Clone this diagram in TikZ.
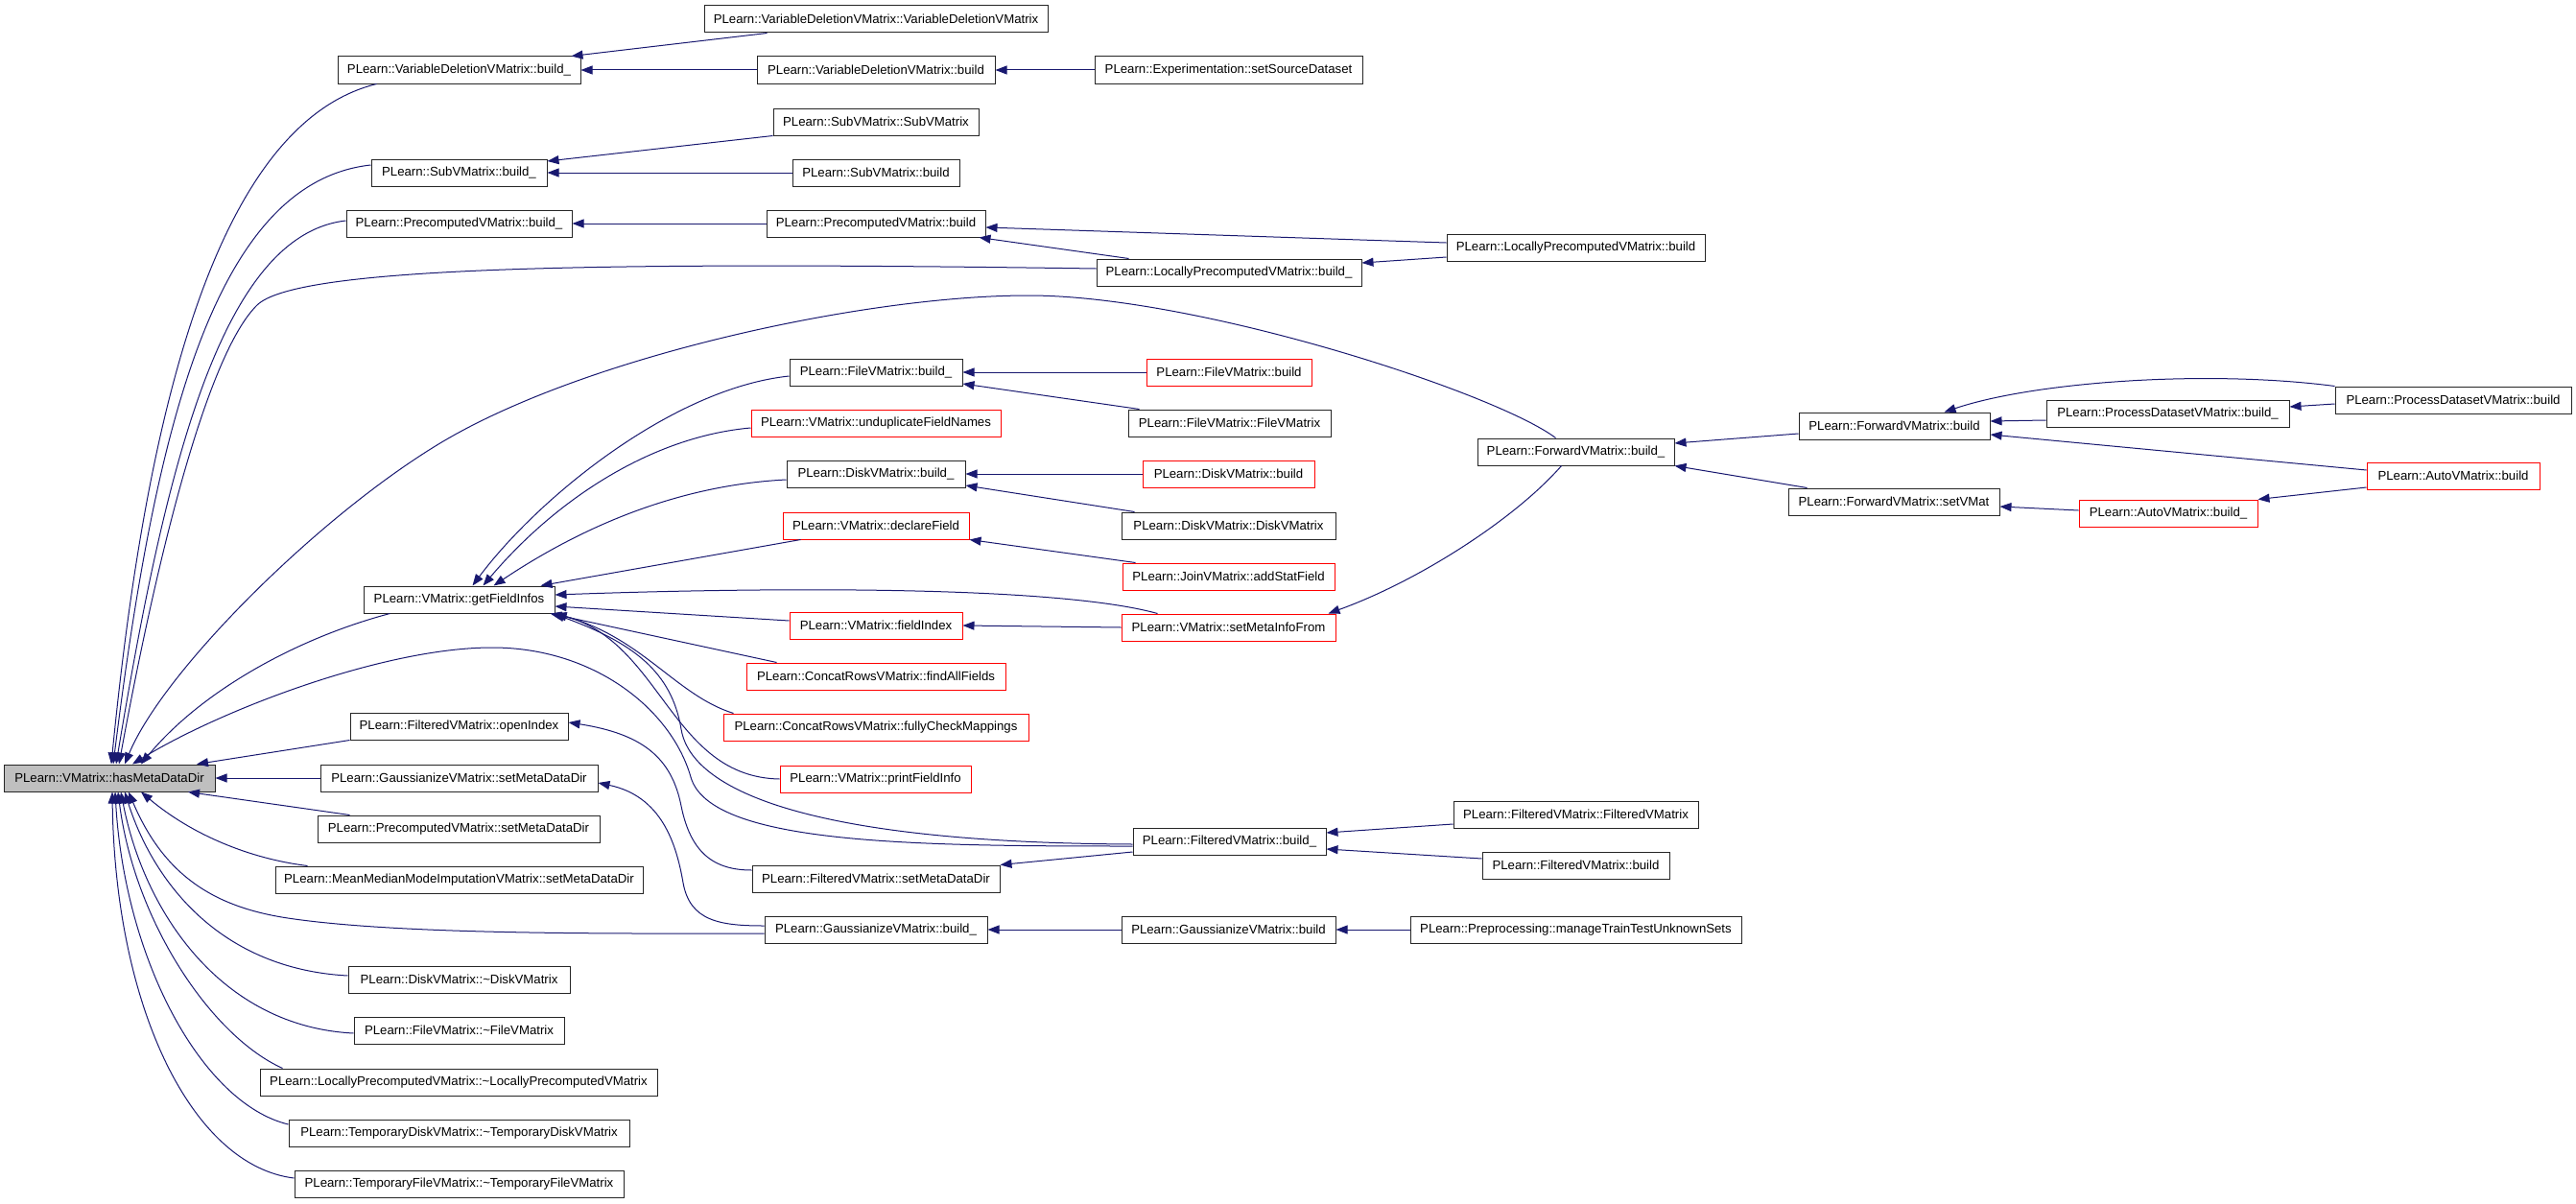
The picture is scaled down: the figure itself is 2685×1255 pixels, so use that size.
\documentclass[tikz,border=0pt]{standalone}
\usepackage{fontspec}
\setmainfont{Liberation Sans}
\usetikzlibrary{arrows.meta}
\definecolor{edgec}{RGB}{25,25,112}
\definecolor{hlgray}{RGB}{191,191,191}
\begin{document}
\begin{tikzpicture}[x=1pt,y=-1pt,
  box/.style={draw=black!85, line width=1pt, fill=white, minimum height=28pt, inner xsep=2pt, inner ysep=0pt, font=\fontsize{13.2}{15}\selectfont, anchor=center},
  rbox/.style={box, draw=red},
  hbox/.style={box, fill=hlgray},
  e/.style={draw=edgec, line width=1pt, {Triangle[length=12pt,width=9pt]}-}]
\useasboundingbox (0,0) rectangle (2685,1255);
% ---- root
\node[hbox, minimum width=220pt] (hmd) at (114,811) {PLearn::VMatrix::hasMetaDataDir};
% ---- column 2
\node[box, minimum width=253pt] (vdbu) at (478.5,73) {PLearn::VariableDeletionVMatrix::build\_};
\node[box, minimum width=183pt] (subu) at (478.5,180) {PLearn::SubVMatrix::build\_};
\node[box, minimum width=235pt] (pcbu) at (478.5,233) {PLearn::PrecomputedVMatrix::build\_};
\node[box, minimum width=199pt] (gfi) at (478.5,625) {PLearn::VMatrix::getFieldInfos};
\node[box, minimum width=227pt] (oi) at (478.5,757) {PLearn::FilteredVMatrix::openIndex};
\node[box, minimum width=289pt] (gsmd) at (478.5,811) {PLearn::GaussianizeVMatrix::setMetaDataDir};
\node[box, minimum width=294pt] (psmd) at (478,864) {PLearn::PrecomputedVMatrix::setMetaDataDir};
\node[box, minimum width=383pt] (mmsmd) at (478.5,917) {PLearn::MeanMedianModeImputationVMatrix::setMetaDataDir};
\node[box, minimum width=231pt] (dd) at (478.5,1021) {PLearn::DiskVMatrix::\textasciitilde DiskVMatrix};
\node[box, minimum width=219pt] (fd) at (478.5,1074) {PLearn::FileVMatrix::\textasciitilde FileVMatrix};
\node[box, minimum width=414pt] (lpd) at (478,1128) {PLearn::LocallyPrecomputedVMatrix::\textasciitilde LocallyPrecomputedVMatrix};
\node[box, minimum width=355pt] (tdd) at (478.5,1181) {PLearn::TemporaryDiskVMatrix::\textasciitilde TemporaryDiskVMatrix};
\node[box, minimum width=343pt] (tfd) at (478.5,1234) {PLearn::TemporaryFileVMatrix::\textasciitilde TemporaryFileVMatrix};
% ---- column 3
\node[box, minimum width=358pt] (vdvd) at (913,20) {PLearn::VariableDeletionVMatrix::VariableDeletionVMatrix};
\node[box, minimum width=248pt] (vdb) at (913,73) {PLearn::VariableDeletionVMatrix::build};
\node[box, minimum width=214pt] (subsub) at (913,127) {PLearn::SubVMatrix::SubVMatrix};
\node[box, minimum width=174pt] (subb) at (913,180) {PLearn::SubVMatrix::build};
\node[box, minimum width=228pt] (pcb) at (913,233) {PLearn::PrecomputedVMatrix::build};
\node[box, minimum width=180pt] (fvbu) at (913,388) {PLearn::FileVMatrix::build\_};
\node[rbox, minimum width=260pt] (undup) at (913,441) {PLearn::VMatrix::unduplicateFieldNames};
\node[box, minimum width=186pt] (dvbu) at (913,494) {PLearn::DiskVMatrix::build\_};
\node[rbox, minimum width=194pt] (decl) at (913,548) {PLearn::VMatrix::declareField};
\node[rbox, minimum width=180pt] (fidx) at (913,652) {PLearn::VMatrix::fieldIndex};
\node[rbox, minimum width=270pt] (cfaf) at (913,705) {PLearn::ConcatRowsVMatrix::findAllFields};
\node[rbox, minimum width=318pt] (cfcm) at (913,758) {PLearn::ConcatRowsVMatrix::fullyCheckMappings};
\node[rbox, minimum width=199pt] (pfi) at (912.5,812) {PLearn::VMatrix::printFieldInfo};
\node[box, minimum width=258pt] (fsmd) at (913,916) {PLearn::FilteredVMatrix::setMetaDataDir};
\node[box, minimum width=232pt] (gbu) at (913,969) {PLearn::GaussianizeVMatrix::build\_};
% ---- column 4
\node[box, minimum width=279pt] (exp) at (1280.5,73) {PLearn::Experimentation::setSourceDataset};
\node[box, minimum width=276pt] (lpbu) at (1281,284) {PLearn::LocallyPrecomputedVMatrix::build\_};
\node[rbox, minimum width=172pt] (fvb) at (1281,388) {PLearn::FileVMatrix::build};
\node[box, minimum width=211pt] (fvfv) at (1281.5,441) {PLearn::FileVMatrix::FileVMatrix};
\node[rbox, minimum width=179pt] (dvb) at (1280.5,494) {PLearn::DiskVMatrix::build};
\node[box, minimum width=223pt] (dvdv) at (1280.5,548) {PLearn::DiskVMatrix::DiskVMatrix};
\node[rbox, minimum width=221pt] (jasf) at (1280.5,601) {PLearn::JoinVMatrix::addStatField};
\node[rbox, minimum width=223pt] (smif) at (1280.5,654) {PLearn::VMatrix::setMetaInfoFrom};
\node[box, minimum width=201pt] (fvbu2) at (1281.5,877) {PLearn::FilteredVMatrix::build\_};
\node[box, minimum width=223pt] (gb) at (1280.5,969) {PLearn::GaussianizeVMatrix::build};
% ---- column 5
\node[box, minimum width=269pt] (lpb) at (1642.5,258) {PLearn::LocallyPrecomputedVMatrix::build};
\node[box, minimum width=205pt] (fwbu) at (1642.5,471) {PLearn::ForwardVMatrix::build\_};
\node[box, minimum width=255pt] (ffv) at (1642.5,849) {PLearn::FilteredVMatrix::FilteredVMatrix};
\node[box, minimum width=195pt] (fb) at (1642.5,902) {PLearn::FilteredVMatrix::build};
\node[box, minimum width=345pt] (pre) at (1642.5,969) {PLearn::Preprocessing::manageTrainTestUnknownSets};
% ---- column 6
\node[box, minimum width=199pt] (fwb) at (1974.5,444) {PLearn::ForwardVMatrix::build};
\node[box, minimum width=220pt] (svm) at (1974,523) {PLearn::ForwardVMatrix::setVMat};
% ---- column 7
\node[box, minimum width=253pt] (pdbu) at (2259.5,431) {PLearn::ProcessDatasetVMatrix::build\_};
\node[rbox, minimum width=186pt] (avbu) at (2260,535) {PLearn::AutoVMatrix::build\_};
% ---- column 8
\node[box, minimum width=246pt] (pdb) at (2557,417) {PLearn::ProcessDatasetVMatrix::build};
\node[rbox, minimum width=180pt] (avb) at (2557,496) {PLearn::AutoVMatrix::build};

% ===== edges into hasMetaDataDir
\draw[e] ([xshift=2pt]hmd.north) .. controls (150,450) and (220,130) .. ([xshift=41pt]vdbu.south west);
\draw[e] ([xshift=4pt]hmd.north) .. controls (160,460) and (220,190) .. ([yshift=8pt]subu.west);
\draw[e] ([xshift=7pt]hmd.north) .. controls (172,490) and (230,245) .. ([yshift=3pt]pcbu.west);
\draw[e] ([xshift=10pt]hmd.north) .. controls (175,520) and (225,360) .. (268,318) .. controls (308,279) and (600,272) .. ([yshift=4pt]lpbu.west);
\draw[e] ([xshift=16pt]hmd.north) .. controls (170,700) and (330,540) .. (457,463) .. controls (607,372) and (900,308) .. (1072,308) .. controls (1250,308) and (1560,410) .. ([xshift=-21pt]fwbu.north);
\draw[e] ([xshift=24pt]hmd.north) .. controls (230,740) and (400,675) .. (513,675) .. controls (620,675) and (700,740) .. (720,810) .. controls (740,880) and (950,882) .. ([yshift=-5pt]fvbu2.west);
\draw[e] ([xshift=33pt]hmd.north) .. controls (210,720) and (310,665) .. ([xshift=-72pt]gfi.south);
\draw[e] ([xshift=91pt]hmd.north) -- (oi.south west);
\draw[e] (hmd.east) -- (gsmd.west);
\draw[e] ([xshift=82pt]hmd.south) -- ([xshift=34pt]psmd.north west);
\draw[e] ([xshift=33pt]hmd.south) .. controls (200,870) and (260,895) .. ([xshift=34pt]mmsmd.north west);
\draw[e] ([xshift=20pt]hmd.south) .. controls (170,910) and (220,945) .. (300,957) .. controls (420,975) and (650,973) .. ([yshift=-4pt]gbu.west);
\draw[e] ([xshift=16pt]hmd.south) .. controls (160,920) and (230,1010) .. ([yshift=4pt]dd.west);
\draw[e] ([xshift=12pt]hmd.south) .. controls (150,950) and (230,1070) .. ([yshift=-3pt]fd.west);
\draw[e] ([xshift=9pt]hmd.south) .. controls (140,960) and (220,1080) .. ([xshift=24pt]lpd.north west);
\draw[e] ([xshift=6pt]hmd.south) .. controls (130,1000) and (210,1150) .. ([yshift=9pt]tdd.west);
\draw[e] ([xshift=3pt]hmd.south) .. controls (120,1050) and (200,1215) .. ([yshift=6pt]tfd.west);

% ===== edges into getFieldInfos
\draw[e] ([xshift=14pt]gfi.north) .. controls (560,520) and (700,405) .. ([yshift=-4pt]fvbu.west);
\draw[e] ([xshift=25pt]gfi.north) .. controls (580,520) and (680,455) .. ([yshift=-5pt]undup.west);
\draw[e] ([xshift=36pt]gfi.north) .. controls (620,540) and (720,505) .. ([yshift=-6pt]dvbu.west);
\draw[e] ([xshift=85pt]gfi.north) -- ([xshift=19pt]decl.south west);
\draw[e] ([yshift=5pt]gfi.east) .. controls (800,612) and (1100,610) .. ([xshift=38pt]smif.north west);
\draw[e] ([yshift=-7pt]gfi.east) -- ([yshift=5pt]fidx.west);
\draw[e] ([xshift=-5pt]gfi.south east) -- ([xshift=32pt]cfaf.north west);
\draw[e] (gfi.south east) .. controls (670,665) and (705,725) .. ([xshift=11pt]cfcm.north west);
\draw[e] (gfi.south east) .. controls (690,670) and (700,810) .. (pfi.west);
\draw[e] ([xshift=-2pt]gfi.south east) .. controls (660,670) and (700,700) .. (710,760) .. controls (718,810) and (800,878) .. ([yshift=-3pt]fvbu2.west);

% ===== other edges
\draw[e] ([xshift=-10pt]vdbu.north east) -- ([xshift=66pt]vdvd.south west);
\draw[e] (vdbu.east) -- (vdb.west);
\draw[e] (vdb.east) -- (exp.west);
\draw[e] ([yshift=12pt]subu.east) -- (subsub.south west);
\draw[e] (subu.east) -- (subb.west);
\draw[e] (pcbu.east) -- (pcb.west);
\draw[e] ([yshift=-4pt]pcb.east) -- ([yshift=5pt]lpb.west);
\draw[e] ([xshift=-7pt]pcb.south east) -- ([xshift=34pt]lpbu.north west);
\draw[e] ([yshift=10pt]lpbu.east) -- ([yshift=-10pt]lpb.west);
\draw[e] (fvbu.east) -- (fvb.west);
\draw[e] ([yshift=-12pt]fvbu.east) -- ([xshift=12pt]fvfv.north west);
\draw[e] (dvbu.east) -- (dvb.west);
\draw[e] ([yshift=-12pt]dvbu.east) -- ([xshift=14pt]dvdv.north west);
\draw[e] (decl.south east) -- ([xshift=14pt]jasf.north west);
\draw[e] (fidx.east) -- (smif.west);
\draw[e] ([xshift=-8pt]smif.north east) .. controls (1480,605) and (1580,540) .. ([xshift=-15pt]fwbu.south);
\draw[e] ([yshift=9pt]fwbu.east) -- ([yshift=-8pt]fwb.west);
\draw[e] (fwbu.south east) -- ([xshift=20pt]svm.north west);
\draw[e] ([xshift=52pt]fwb.north) .. controls (2120,398) and (2300,385) .. (pdb.north west);
\draw[e] ([yshift=5pt]fwb.east) -- ([yshift=-7pt]pdbu.west);
\draw[e] ([yshift=-9pt]fwb.east) -- ([yshift=6pt]avb.west);
\draw[e] ([yshift=7pt]pdbu.east) -- ([yshift=-4pt]pdb.west);
\draw[e] ([yshift=-5pt]svm.east) -- ([yshift=3pt]avbu.west);
\draw[e] (avbu.north east) -- ([yshift=-12pt]avb.west);
\draw[e] ([yshift=9pt]fvbu2.east) -- ([yshift=-10pt]ffv.west);
\draw[e] ([yshift=-8pt]fvbu2.east) -- ([yshift=7pt]fb.west);
\draw[e] (fsmd.north east) -- ([yshift=-11pt]fvbu2.west);
\draw[e] (gbu.east) -- (gb.west);
\draw[e] (gb.east) -- (pre.west);
\draw[e] ([yshift=4pt]oi.east) .. controls (670,765) and (700,790) .. (710,840) .. controls (720,890) and (745,907) .. ([yshift=9pt]fsmd.west);
\draw[e] ([yshift=-5pt]gsmd.east) .. controls (690,830) and (705,880) .. (712,920) .. controls (719,960) and (750,965) .. ([yshift=4pt]gbu.west);
\end{tikzpicture}
\end{document}
